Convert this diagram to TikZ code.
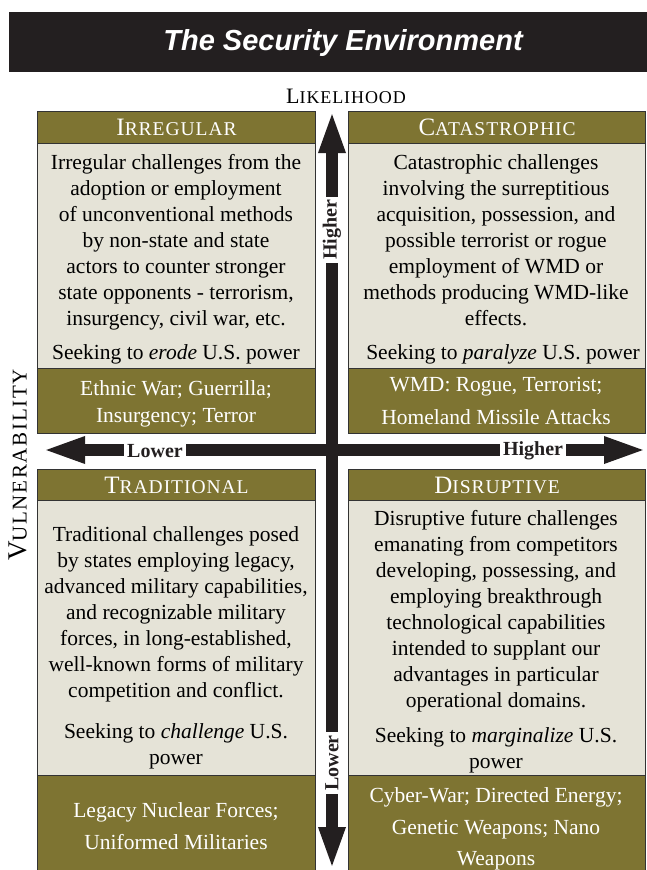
\documentclass[tikz,border=0pt]{standalone}
\usepackage{fontspec}
\setmainfont{Liberation Serif}
\newfontfamily\headfont{Liberation Sans}
\newfontfamily\spacedfont[LetterSpace=5]{Liberation Serif}
\newfontfamily\widefont[LetterSpace=8]{Liberation Serif}
\usetikzlibrary{arrows.meta}
\definecolor{boxgreen}{RGB}{126,116,50}
\definecolor{boxlight}{RGB}{229,227,215}
\definecolor{barblack}{RGB}{35,31,32}
\newcommand\capsz[4]{{\fontsize{#1}{#1}\selectfont #3}{\fontsize{#2}{#2}\selectfont #4}}

\begin{document}
\begin{tikzpicture}
[
x=1pt, y=-1pt,
box/.style={draw=black!80, line width=1.1pt, anchor=north west, inner sep=0pt},
hdr/.style={box, fill=boxgreen, text=white, minimum height=32pt, font=\spacedfont},
lightbox/.style={box, fill=boxlight},
listbox/.style={box, fill=boxgreen},
txt/.style={align=center, inner sep=0pt, font=\fontsize{21.5}{26}\selectfont},
listtxt/.style={txt, text=white},
axis/.style={draw=barblack, line width=12pt, {Triangle[length=43pt,width=24pt]}-{Triangle[length=43pt,width=24pt]}},
axlabel/.style={fill=white, inner sep=3pt, font=\bfseries\fontsize{20}{20}\selectfont, text=barblack}
]
\useasboundingbox (0,0) rectangle (647,870);

\node[box, draw=none, fill=barblack, minimum width=645pt, minimum height=60pt] (titlebar) at (8,11) {};
\node[text=white, font=\headfont\bfseries\itshape\fontsize{29}{29}\selectfont] (title) at (343,43) {The Security Environment};
\node[font=\spacedfont] (likely) at (346,96) {\capsz{22}{18}{L}{IKELIHOOD}};
\node[font=\widefont, rotate=90] (vulner) at (18,465) {\capsz{27}{21}{V}{ULNERABILITY}};

\node[hdr, minimum width=278pt] (irrhead) at (37,111) {\capsz{25}{19.5}{I}{RREGULAR}};
\node[lightbox, minimum width=278pt, minimum height=225pt] (irrbody) at (37,143) {};
\node[listbox, minimum width=278pt, minimum height=65pt] (irrlist) at (37,368) {};
\node[txt] (irrtext) at (176,242) {Irregular challenges from the\\adoption or employment\\of unconventional methods\\by non-state and state\\actors to counter stronger\\state opponents - terrorism,\\insurgency, civil war, etc.};
\node[txt] (irrseek) at (176,354) {Seeking to \emph{erode} U.S. power};
\node[listtxt, font=\fontsize{21.5}{27}\selectfont] (irrex) at (176,404) {Ethnic War; Guerrilla;\\Insurgency; Terror};

\node[hdr, minimum width=297pt] (cathead) at (348,111) {\capsz{25}{19.5}{C}{ATASTROPHIC}};
\node[lightbox, minimum width=297pt, minimum height=225pt] (catbody) at (348,143) {};
\node[listbox, minimum width=297pt, minimum height=65pt] (catlist) at (348,368) {};
\node[txt] (cattext) at (496,240) {Catastrophic challenges\\involving the surreptitious\\acquisition, possession, and\\possible terrorist or rogue\\employment of WMD or\\methods producing WMD-like\\effects.};
\node[txt] (catseek) at (503,354) {Seeking to \emph{paralyze} U.S. power};
\node[listtxt, font=\fontsize{21.5}{33}\selectfont] (catex) at (496,401) {WMD: Rogue, Terrorist;\\Homeland Missile Attacks};

\node[hdr, minimum width=278pt, minimum height=31pt] (trahead) at (37,469) {\capsz{25}{19.5}{T}{RADITIONAL}};
\node[lightbox, minimum width=278pt, minimum height=275pt] (trabody) at (37,500) {};
\node[listbox, minimum width=278pt, minimum height=100pt] (tralist) at (37,775) {};
\node[txt] (tratext) at (176,614) {Traditional challenges posed\\by states employing legacy,\\advanced military capabilities,\\and recognizable military\\forces, in long-established,\\well-known forms of military\\competition and conflict.};
\node[txt] (traseek) at (176,746) {Seeking to \emph{challenge} U.S.\\power};
\node[listtxt, font=\fontsize{21.5}{32}\selectfont] (traex) at (176,826) {Legacy Nuclear Forces;\\Uniformed Militaries};

\node[hdr, minimum width=297pt, minimum height=31pt] (dishead) at (348,469) {\capsz{25}{19.5}{D}{ISRUPTIVE}};
\node[lightbox, minimum width=297pt, minimum height=275pt] (disbody) at (348,500) {};
\node[listbox, minimum width=297pt, minimum height=100pt] (dislist) at (348,775) {};
\node[txt] (distext) at (496,611) {Disruptive future challenges\\emanating from competitors\\developing, possessing, and\\employing breakthrough\\technological capabilities\\intended to supplant our\\advantages in particular\\operational domains.};
\node[txt] (disseek) at (496,750) {Seeking to \emph{marginalize} U.S.\\power};
\node[listtxt, font=\fontsize{21.5}{31.5}\selectfont] (disex) at (496,829) {Cyber-War; Directed Energy;\\Genetic Weapons; Nano\\Weapons};

\coordinate (vtop) at (332,110);
\coordinate (vbot) at (332,870);
\coordinate (hleft) at (42,450);
\coordinate (hright) at (647,450);
\draw[axis] (vbot) -- (vtop);
\draw[axis] (hleft) -- (hright);
\node[axlabel, rotate=90] (vhigh) at (332,230) {Higher};
\node[axlabel, rotate=90] (vlow) at (332,763) {Lower};
\node[axlabel] (hlow) at (155,451) {Lower};
\node[axlabel] (hhigh) at (533,451) {Higher};
\end{tikzpicture}
\end{document}
